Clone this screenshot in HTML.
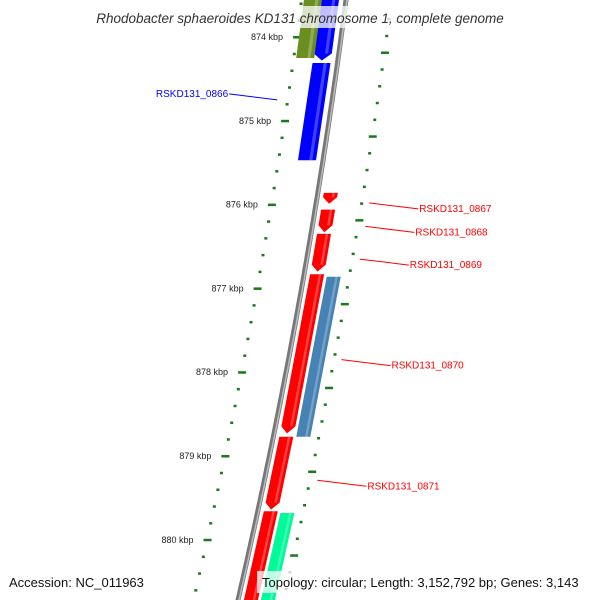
<!DOCTYPE html>
<html><head><meta charset="utf-8">
<style>
body{margin:0;background:#fff}
svg{display:block;font-family:"Liberation Sans","DejaVu Sans",sans-serif}
</style></head>
<body>
<svg id="map" width="600" height="600" viewBox="0 0 600 600" xmlns="http://www.w3.org/2000/svg">
<g id="rulers"></g>
<g id="backbone"></g>
<g id="genes"></g>
<g id="labels"></g>
<rect x="62" y="6" width="476" height="22" fill="#fff" fill-opacity="0.75"/>
<text x="300" y="23" text-anchor="middle" font-size="13.5" font-style="italic" fill="#333">Rhodobacter sphaeroides KD131 chromosome 1, complete genome</text>
<rect x="4" y="571" width="150" height="22" fill="#fff" fill-opacity="0.75"/>
<text x="9" y="587" font-size="13" fill="#111">Accession: NC_011963</text>
<rect x="257" y="571" width="343" height="22" fill="#fff" fill-opacity="0.75"/>
<text x="262" y="587" font-size="13" fill="#111">Topology: circular; Length: 3,152,792 bp; Genes: 3,143</text>
</svg>
<script>
const geneStarts = [873.50, 874.31, 873.50, 875.86, 876.06, 876.35, 876.83, 878.77, 879.66, 876.86, 879.68];
const geneEnds   = [874.28, 875.47, 874.25, 875.99, 876.33, 876.80, 878.73, 879.64, 880.90, 878.77, 880.90];
const geneTracks = [-1, -1, -2, 1, 1, 1, 1, 1, 1, 2, 2];
const geneArrow  = [1, 0, 0, 1, 1, 1, 1, 1, 0, 0, 0];
const geneColors = ["#0000ff","#0000ff","#6b8e23","#ff0000","#ff0000","#ff0000","#ff0000","#ff0000","#ff0000","#4682b4","#00fa9a"];
const labelNames = ["RSKD131_0866","RSKD131_0867","RSKD131_0868","RSKD131_0869","RSKD131_0870","RSKD131_0871"];
const labelKbp   = [874.75, 875.98, 876.26, 876.65, 877.85, 879.29];
const labelSide  = [-1, 1, 1, 1, 1, 1];
const tickLabels = ["874 kbp","875 kbp","876 kbp","877 kbp","878 kbp","879 kbp","880 kbp"];
const tickKbp    = [874, 875, 876, 877, 878, 879, 880];

const NS="http://www.w3.org/2000/svg";
function yOf(k){return 37+(k-874)*83.8;}
function bx(y){return 346-0.13*y-0.0000833*y*y;}
function mk(t,a,p){const e=document.createElementNS(NS,t);for(const k in a)e.setAttribute(k,a[k]);p.appendChild(e);return e;}
const trackOff={"-2":[-42,-24],"-1":[-25,-7],"1":[6,20],"2":[23,37]};

// backbone
const bb=document.getElementById('backbone');
let d="";for(let y=-5;y<=605;y+=5){d+=(y==-5?"M":"L")+bx(y).toFixed(1)+","+y;}
const bl=mk('path',{d:d,fill:'none',stroke:'#777','stroke-width':5},bb);


let d2="";for(let y=-5;y<=605;y+=5){d2+=(y==-5?"M":"L")+(bx(y)+1).toFixed(1)+","+y;}
mk('path',{d:d2,fill:'none',stroke:'#bbb','stroke-width':1.5},bb);

// rulers
const rg=document.getElementById('rulers');
for(let k=873.4;k<=881;k+=0.2){
  const y=yOf(k);if(y<-5||y>605)continue;
  const major=Math.abs(k-Math.round(k))<0.01;
  const x=bx(y)-45;
  const t=mk('rect',{x:major?x-3:x-1,y:y-1,width:major?8:3,height:major?2.5:2.5,fill:'#1a7a1a'},rg);
  
  
  const y2=y+15.5;const x2=bx(y2)+45;
  const t2=mk('rect',{x:major?x2-3:x2-1,y:y2-1,width:major?8:3,height:2.5,fill:'#1a7a1a'},rg);
  
  
}
tickKbp.forEach((k,i)=>{
  const y=yOf(k);
  const t=mk('text',{x:bx(y)-58,y:y+3,'text-anchor':'end','font-size':9,fill:'#222'},rg);
  t.textContent=tickLabels[i];
  
  
});

// genes
const gg=document.getElementById('genes');
geneStarts.forEach((s,i)=>{
  let y1=yOf(s),y2=yOf(geneEnds[i]);
  const [o1,o2]=trackOff[geneTracks[i]];
  const ah=geneArrow[i]?Math.min(7,(y2-y1)*0.6):0;
  const ye=y2-ah;
  const pts=[[bx(y1)+o1,y1],[bx(y1)+o2,y1],[bx(ye)+o2,ye],[bx(y2)+(o1+o2)/2,y2],[bx(ye)+o1,ye]];
  const p=mk('polygon',{points:pts.map(q=>q[0].toFixed(1)+","+q[1].toFixed(1)).join(" "),fill:geneColors[i]},gg);
  
  
  const w=o2-o1,hl=[[bx(y1)+o1+w*0.62,y1],[bx(y1)+o1+w*0.8,y1],[bx(ye)+o1+w*0.8,ye],[bx(ye)+o1+w*0.62,ye]];
  const h=mk('polygon',{points:hl.map(q=>q[0].toFixed(1)+","+q[1].toFixed(1)).join(" "),fill:'#fff','fill-opacity':0.25},gg);
  
  
});

// labels
const lg=document.getElementById('labels');
labelNames.forEach((n,i)=>{
  const y=yOf(labelKbp[i]);
  const col=labelSide[i]<0?'#0000ff':'#ff0000';
  let x1,x2,tx,anchor;
  if(labelSide[i]<0){x1=bx(y)-55;x2=x1-48;tx=x2-1;anchor='end';}
  else{x1=bx(y)+53;x2=x1+49;tx=x2+1;anchor='start';}
  const l=mk('line',{x1:x1,y1:y,x2:x2,y2:y+(labelSide[i]<0?-6:6),stroke:col,'stroke-width':1},lg);
  
  
  const t=mk('text',{x:tx,y:y+(labelSide[i]<0?-3:9),'text-anchor':anchor,'font-size':10,fill:col},lg);
  t.textContent=n;
  
  
});
</script>
</body></html>
